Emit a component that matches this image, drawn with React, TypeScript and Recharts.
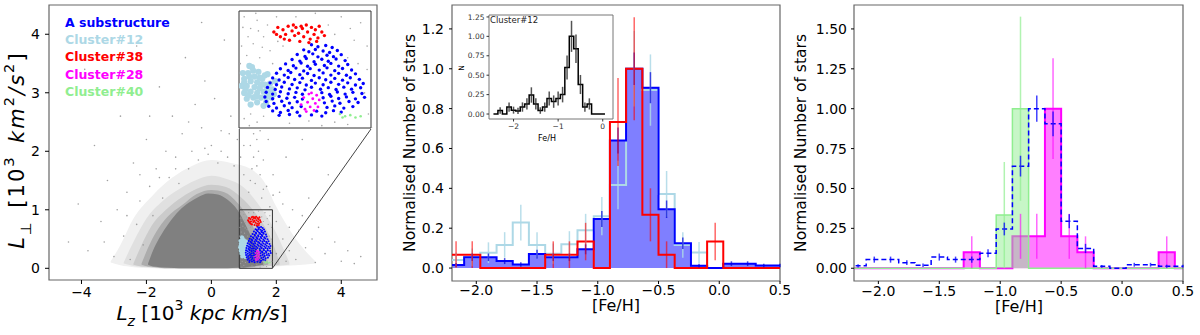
import React from 'react';
import {
  ComposedChart, Area, Line, Scatter, XAxis, YAxis,
  ReferenceArea, ReferenceLine, ErrorBar,
} from 'recharts';

const FONT = "'DejaVu Sans', sans-serif";

// ---------- left panel: Lz vs L_perp (10^3 units) ----------
const haloOuter = [
  { x: -3.1, band: [0.1, 0.12] }, { x: -2.8, band: [0.05, 0.4] }, { x: -2.4, band: [0.02, 0.85] },
  { x: -1.8, band: [0.0, 1.25] }, { x: -1.2, band: [0.0, 1.55] }, { x: -0.6, band: [0.0, 1.75] },
  { x: 0.0, band: [0.0, 1.85] }, { x: 0.6, band: [0.0, 1.8] }, { x: 1.2, band: [0.0, 1.7] },
  { x: 1.6, band: [0.01, 1.5] }, { x: 2.0, band: [0.03, 1.05] }, { x: 2.6, band: [0.05, 0.5] },
  { x: 3.2, band: [0.08, 0.12] },
];
const haloMid = [
  { x: -2.7, band: [0.08, 0.1] }, { x: -2.4, band: [0.04, 0.45] }, { x: -2.0, band: [0.02, 0.85] },
  { x: -1.5, band: [0.0, 1.15] }, { x: -1.0, band: [0.0, 1.35] }, { x: -0.5, band: [0.0, 1.5] },
  { x: 0.0, band: [0.0, 1.58] }, { x: 0.5, band: [0.0, 1.52] }, { x: 1.0, band: [0.0, 1.38] },
  { x: 1.5, band: [0.02, 1.05] }, { x: 2.0, band: [0.04, 0.6] }, { x: 2.4, band: [0.06, 0.1] },
];
const haloInner = [
  { x: -2.4, band: [0.06, 0.08] }, { x: -2.15, band: [0.03, 0.4] }, { x: -1.85, band: [0.02, 0.72] },
  { x: -1.4, band: [0.0, 1.0] }, { x: -0.9, band: [0.0, 1.22] }, { x: -0.45, band: [0.0, 1.36] },
  { x: 0.0, band: [0.0, 1.43] }, { x: 0.45, band: [0.0, 1.39] }, { x: 0.9, band: [0.0, 1.22] },
  { x: 1.35, band: [0.02, 0.95] }, { x: 1.8, band: [0.04, 0.55] }, { x: 2.1, band: [0.06, 0.1] },
];
const haloCore = [
  { x: -2.15, band: [0.06, 0.08] }, { x: -1.95, band: [0.03, 0.35] }, { x: -1.7, band: [0.02, 0.62] },
  { x: -1.35, band: [0.0, 0.88] }, { x: -0.9, band: [0.0, 1.08] }, { x: -0.45, band: [0.0, 1.27] },
  { x: 0.0, band: [0.0, 1.34] }, { x: 0.4, band: [0.0, 1.3] }, { x: 0.8, band: [0.0, 1.12] },
  { x: 1.15, band: [0.02, 0.85] }, { x: 1.5, band: [0.04, 0.45] }, { x: 1.75, band: [0.06, 0.1] },
];
const core = [
  { x: -1.95, band: [0.06, 0.08] }, { x: -1.8, band: [0.03, 0.3] }, { x: -1.6, band: [0.02, 0.52] },
  { x: -1.3, band: [0.01, 0.78] }, { x: -1.0, band: [0.0, 0.98] }, { x: -0.7, band: [0.0, 1.12] },
  { x: -0.4, band: [0.0, 1.22] }, { x: -0.1, band: [0.0, 1.28] }, { x: 0.2, band: [0.0, 1.26] },
  { x: 0.5, band: [0.0, 1.17] }, { x: 0.8, band: [0.01, 1.0] }, { x: 1.05, band: [0.02, 0.75] },
  { x: 1.3, band: [0.03, 0.45] }, { x: 1.5, band: [0.05, 0.2] }, { x: 1.6, band: [0.06, 0.08] },
];

const fieldStars: [number, number][] = [
  [-4.4, 0.45], [-4.1, 1.1], [-3.8, 0.3], [-3.6, 2.1], [-3.4, 0.8], [-3.2, 1.5], [-3.0, 0.2], [-2.9, 1.0],
  [-2.8, 2.6], [-2.7, 0.55], [-2.6, 1.3], [-2.5, 0.15], [-2.4, 1.8], [-2.3, 0.75], [-2.2, 1.15], [-2.1, 0.4],
  [-2.0, 2.2], [-1.9, 1.4], [-1.8, 0.9], [-1.7, 1.7], [-1.6, 3.1], [-1.5, 1.2], [-1.4, 2.0], [-1.3, 1.55],
  [-1.2, 2.6], [-1.1, 1.9], [-1.0, 1.45], [-0.9, 2.3], [-0.8, 3.6], [-0.7, 1.7], [-0.6, 2.0], [-0.5, 2.8],
  [-0.4, 1.85], [-0.3, 2.4], [-0.2, 3.2], [-0.1, 1.95], [0.0, 2.1], [0.1, 2.9], [0.2, 1.8], [0.3, 2.35],
  [0.4, 3.9], [0.5, 1.9], [0.6, 2.6], [0.7, 1.75], [0.8, 2.2], [0.9, 3.3], [1.0, 1.6], [1.05, 2.45],
  [1.1, 2.9], [1.15, 1.3], [1.2, 2.1], [1.25, 1.7], [1.3, 2.3], [1.3, 1.9], [1.35, 1.45], [1.4, 2.2],
  [1.45, 2.0], [1.5, 1.6], [1.5, 2.35], [1.55, 1.2], [1.6, 1.85], [1.7, 1.4], [1.75, 2.2], [1.8, 1.05],
  [1.9, 1.6], [2.0, 0.8], [2.1, 1.3], [2.2, 0.5], [2.3, 1.9], [2.4, 0.3], [2.5, 1.0], [2.6, 0.15],
  [2.7, 0.65], [2.8, 2.2], [2.9, 0.35], [3.0, 1.2], [3.2, 0.1], [3.3, 0.7], [3.5, 0.25], [3.6, 1.6],
  [3.8, 0.45], [4.0, 0.12], [4.2, 0.3], [4.4, 0.08], [4.6, 0.2], [-3.9, 3.4], [-0.3, 4.2], [-2.3, 3.8],
  [-2.6, 0.9], [-2.2, 1.6], [-1.6, 1.55], [-1.1, 1.7], [-0.7, 2.5], [-0.2, 2.05], [0.3, 2.0], [0.9, 1.9],
  [1.2, 1.5], [1.4, 1.75], [1.6, 1.35], [1.9, 1.25], [2.2, 1.1], [2.4, 0.7], [2.0, 0.25], [2.3, 0.12],
  [2.8, 0.9], [3.1, 0.5], [1.35, 2.6], [1.55, 2.5], [-3.3, 0.45], [-1.9, 2.6], [0.55, 2.3], [1.0, 2.1],
];

// zoom box content (same coordinates in both views)
const boxField: [number, number][] = [
  [0.9, 0.95], [0.95, 0.85], [0.88, 0.7], [1.0, 0.92], [1.05, 0.78], [0.92, 0.62], [1.1, 0.66], [0.97, 0.72],
  [1.02, 0.6], [1.08, 0.88], [1.15, 0.95], [1.2, 0.7], [1.12, 0.55], [0.9, 0.08], [0.95, 0.12], [1.0, 0.05],
  [1.05, 0.1], [1.25, 0.04], [1.4, 0.06], [1.6, 0.05], [1.7, 0.6], [1.75, 0.75], [1.8, 0.9], [1.65, 0.95],
  [1.55, 0.88], [1.6, 0.8], [1.85, 0.5], [1.83, 0.3], [1.86, 0.12], [1.7, 0.03], [1.3, 0.95], [1.45, 0.98],
  [1.78, 0.55], [0.87, 0.55], [0.99, 0.98], [1.12, 0.82], [1.85, 0.7], [1.72, 0.85], [0.94, 0.02], [1.5, 0.02],
  [0.93, 0.78], [1.04, 0.69], [0.89, 0.86], [1.16, 0.74], [1.01, 0.83],
];
const aSubstructure: [number, number][] = [
  [1.42, 0.712], [1.47, 0.695], [1.53, 0.705], [1.58, 0.688],
  [1.36, 0.668], [1.4, 0.652], [1.45, 0.671], [1.51, 0.658], [1.56, 0.645], [1.62, 0.662],
  [1.31, 0.628], [1.37, 0.612], [1.43, 0.634], [1.47, 0.608], [1.54, 0.622], [1.59, 0.61], [1.65, 0.627],
  [1.27, 0.585], [1.33, 0.572], [1.38, 0.594], [1.44, 0.566], [1.5, 0.588], [1.55, 0.571], [1.61, 0.59], [1.68, 0.576],
  [1.22, 0.548], [1.28, 0.532], [1.34, 0.556], [1.39, 0.528], [1.45, 0.545], [1.52, 0.534], [1.57, 0.552], [1.63, 0.529], [1.7, 0.543],
  [1.18, 0.506], [1.24, 0.492], [1.3, 0.512], [1.36, 0.488], [1.41, 0.507], [1.48, 0.495], [1.54, 0.514], [1.6, 0.49], [1.66, 0.508], [1.73, 0.496],
  [1.15, 0.468], [1.21, 0.452], [1.26, 0.474], [1.33, 0.456], [1.39, 0.466], [1.44, 0.449], [1.51, 0.471], [1.57, 0.452], [1.63, 0.467], [1.69, 0.451], [1.76, 0.463],
  [1.12, 0.428], [1.17, 0.41], [1.24, 0.432], [1.29, 0.414], [1.35, 0.426], [1.42, 0.407], [1.48, 0.43], [1.53, 0.412], [1.6, 0.424], [1.66, 0.409], [1.72, 0.429], [1.79, 0.416],
  [1.1, 0.386], [1.15, 0.37], [1.21, 0.391], [1.27, 0.372], [1.33, 0.388], [1.38, 0.367], [1.45, 0.384], [1.51, 0.37], [1.57, 0.391], [1.63, 0.373], [1.7, 0.386], [1.76, 0.368], [1.82, 0.38],
  [1.08, 0.347], [1.14, 0.33], [1.19, 0.35], [1.25, 0.334], [1.31, 0.343], [1.37, 0.326], [1.42, 0.348], [1.49, 0.331], [1.55, 0.345], [1.61, 0.329], [1.67, 0.349], [1.73, 0.332], [1.8, 0.344],
  [1.07, 0.306], [1.12, 0.29], [1.18, 0.31], [1.24, 0.293], [1.3, 0.304], [1.35, 0.288], [1.5, 0.302], [1.56, 0.287], [1.62, 0.308], [1.68, 0.29], [1.74, 0.305], [1.81, 0.295],
  [1.06, 0.265], [1.12, 0.25], [1.17, 0.27], [1.23, 0.254], [1.29, 0.262], [1.35, 0.247], [1.51, 0.258], [1.57, 0.271], [1.63, 0.252], [1.69, 0.266], [1.76, 0.249], [1.83, 0.262],
  [1.07, 0.226], [1.13, 0.21], [1.19, 0.229], [1.25, 0.213], [1.31, 0.224], [1.52, 0.215], [1.58, 0.23], [1.64, 0.212], [1.71, 0.227], [1.78, 0.218],
  [1.09, 0.186], [1.15, 0.171], [1.21, 0.19], [1.27, 0.174], [1.34, 0.184], [1.54, 0.176], [1.6, 0.189], [1.67, 0.17], [1.74, 0.183],
  [1.12, 0.146], [1.18, 0.132], [1.24, 0.15], [1.31, 0.135], [1.46, 0.144], [1.53, 0.13], [1.59, 0.148], [1.65, 0.136],
  [1.17, 0.108], [1.25, 0.115], [1.33, 0.104], [1.42, 0.112], [1.5, 0.102],
];
const cluster38Pts: [number, number][] = [
  [1.13, 0.82], [1.16, 0.86], [1.18, 0.78], [1.2, 0.84], [1.22, 0.8], [1.24, 0.87], [1.25, 0.75], [1.27, 0.83],
  [1.29, 0.79], [1.3, 0.86], [1.32, 0.81], [1.33, 0.74], [1.35, 0.85], [1.36, 0.78], [1.38, 0.88], [1.39, 0.82],
  [1.41, 0.76], [1.42, 0.86], [1.44, 0.8], [1.45, 0.84], [1.47, 0.77], [1.48, 0.87], [1.5, 0.82], [1.52, 0.79],
  [1.21, 0.76], [1.28, 0.88], [1.4, 0.73], [1.15, 0.8], [1.34, 0.87], [1.46, 0.74],
];
const cluster12Pts: [number, number][] = [
  [0.88, 0.36], [0.9, 0.3], [0.9, 0.42], [0.92, 0.25], [0.92, 0.36], [0.93, 0.47], [0.95, 0.2], [0.95, 0.31],
  [0.95, 0.4], [0.96, 0.52], [0.97, 0.26], [0.98, 0.35], [0.98, 0.44], [1.0, 0.22], [1.0, 0.3], [1.0, 0.39],
  [1.01, 0.48], [1.02, 0.34], [1.03, 0.26], [1.04, 0.42], [1.05, 0.31], [1.06, 0.37], [1.07, 0.22], [1.08, 0.46],
  [1.09, 0.3], [1.1, 0.38], [1.12, 0.33], [1.14, 0.4], [0.89, 0.47], [0.94, 0.53], [1.05, 0.19], [1.11, 0.26],
  [0.91, 0.33], [0.94, 0.44], [0.97, 0.49], [0.99, 0.27], [1.03, 0.37], [1.06, 0.45], [1.08, 0.34], [1.13, 0.29],
  [0.93, 0.28], [1.02, 0.43], [0.9, 0.39], [1.07, 0.26],
];
const cluster28Pts: [number, number][] = [
  [1.34, 0.2], [1.36, 0.26], [1.37, 0.16], [1.39, 0.22], [1.4, 0.29], [1.41, 0.18], [1.43, 0.25], [1.44, 0.15],
  [1.45, 0.21], [1.46, 0.28], [1.47, 0.18], [1.48, 0.24], [1.38, 0.14], [1.42, 0.3],
];
const cluster40Pts: [number, number][] = [
  [1.64, 0.12], [1.68, 0.1], [1.72, 0.11], [1.76, 0.09], [1.8, 0.1], [1.66, 0.09],
];

// ---------- metallicity histograms ----------
const BIN_EDGES = [-2.233, -2.1, -1.967, -1.833, -1.7, -1.567, -1.433, -1.3, -1.167, -1.033, -0.9,
  -0.767, -0.633, -0.5, -0.367, -0.233, -0.1, 0.033, 0.167, 0.3, 0.433, 0.567];

const substructure = [0.015, 0.054, 0.054, 0.035, 0.018, 0.07, 0.054, 0.054, 0.094, 0.246, 0.64,
  1.0, 0.905, 0.295, 0.124, 0.012, 0, 0.022, 0.022, 0.013, 0.013];
const substructureErr = [0.01, 0.019, 0.019, 0.015, 0.011, 0.022, 0.019, 0.019, 0.025, 0.04, 0.065,
  0.082, 0.078, 0.044, 0.029, 0.009, 0, 0.012, 0.012, 0.009, 0.009];
const cluster12 = [0.04, 0.054, 0.077, 0.116, 0.228, 0.116, 0.072, 0.12, 0.19, 0.26, 0.417,
  1.0, 0.893, 0.372, 0.116, 0.078, 0, 0, 0, 0, 0];
const cluster12Err = [0.038, 0.044, 0.052, 0.064, 0.09, 0.064, 0.051, 0.065, 0.082, 0.096, 0.122,
  0.189, 0.179, 0.115, 0.064, 0.053, 0, 0, 0, 0, 0];
const cluster38 = [0.067, 0.067, 0, 0, 0, 0, 0.067, 0.067, 0.133, 0, 0.733,
  1.0, 0.267, 0.067, 0, 0, 0.133, 0, 0, 0, 0];
const cluster38Err = [0.067, 0.067, 0, 0, 0, 0, 0.067, 0.067, 0.094, 0, 0.221,
  0.258, 0.133, 0.067, 0, 0, 0.094, 0, 0, 0, 0];
const cluster28 = [0, 0, 0, 0, 0, 0, 0, 0.1, 0, 0, 0.2, 0.2, 1.0, 0.2, 0.1, 0, 0, 0, 0, 0.1, 0];
const cluster28Err = [0, 0, 0, 0, 0, 0, 0, 0.1, 0, 0, 0.141, 0.141, 0.316, 0.141, 0.1, 0, 0, 0, 0, 0.1, 0];
const cluster40 = [0, 0, 0, 0, 0, 0, 0, 0, 0, 0.333, 1.0, 0, 0, 0, 0, 0, 0, 0, 0, 0, 0];
const cluster40Err = [0, 0, 0, 0, 0, 0, 0, 0, 0, 0.333, 0.577, 0, 0, 0, 0, 0, 0, 0, 0, 0, 0];

// inset: Cluster#12 with finer bins
const INSET_EDGES = [-2.45, -2.35, -2.25, -2.15, -2.05, -1.95, -1.85, -1.75, -1.65, -1.55, -1.45, -1.35, -1.25,
  -1.15, -1.05, -0.95, -0.85, -0.75, -0.65, -0.55, -0.45, -0.35, -0.25, -0.15, -0.05, 0.05];
const cluster12Fine = [0, 0.045, 0, 0.09, 0.05, 0.04, 0.09, 0.13, 0.245, 0.13, 0.045, 0.09, 0.2,
  0.16, 0.2, 0.25, 0.6, 1.0, 0.84, 0.38, 0.09, 0.13, 0, 0, 0];
const cluster12FineErr = [0, 0.042, 0, 0.06, 0.045, 0.04, 0.06, 0.072, 0.099, 0.072, 0.042, 0.06, 0.089,
  0.08, 0.089, 0.1, 0.155, 0.2, 0.183, 0.123, 0.06, 0.072, 0, 0, 0];

const FEH_TICKS = [-2.0, -1.5, -1.0, -0.5, 0.0, 0.5];

// ---------- helpers ----------
const pts = (a: [number, number][]) => a.map(([x, y]) => ({ x, y }));

function stepRows(edges: number[], cols: Record<string, number[]>) {
  const keys = Object.keys(cols);
  const row = (x: number, i: number) => {
    const r: any = { x };
    keys.forEach((k) => { r[k] = i < 0 ? 0 : cols[k][i]; });
    return r;
  };
  const n = edges.length - 1;
  const rows = [row(edges[0], -1)];
  for (let i = 0; i < n; i++) rows.push(row(edges[i], i));
  rows.push(row(edges[n], n - 1));
  rows.push(row(edges[n], -1));
  return rows;
}

function errRows(edges: number[], vals: number[], errs: number[]) {
  return vals
    .map((v, i) => ({ x: (edges[i] + edges[i + 1]) / 2, y: v, err: errs[i] }))
    .filter((r) => r.err > 0);
}

const minus = (s: string) => s.replace('-', '\u2212');
const fmt = (d: number) => (v: number) => minus(v.toFixed(d));

const dot = (r: number, fill: string) => (p: any) => <circle cx={p.cx} cy={p.cy} r={r} fill={fill} />;
const NoShape = () => <g />;

const tick14 = { fill: '#000', fontSize: 14, fontFamily: FONT };
const tick7 = { fill: '#333', fontSize: 7.5, fontFamily: FONT };

const AxisText = ({ x, y, rotate, size, spacing, children }: any) => (
  <text
    x={x} y={y}
    transform={rotate ? `rotate(-90 ${x} ${y})` : undefined}
    textAnchor="middle" dominantBaseline="central"
    fontSize={size} fontFamily={FONT} fill="#000" letterSpacing={spacing}
  >
    {children}
  </text>
);

const sup = { fontSize: '70%', baselineShift: 'super' } as any;
const sub = { fontSize: '70%', baselineShift: 'sub' } as any;

// ---------- panels ----------
const LEGEND = [
  { text: 'A substructure', color: '#0000ff', y: 23 },
  { text: 'Cluster#12', color: '#add8e6', y: 40 },
  { text: 'Cluster#38', color: '#ff0000', y: 57 },
  { text: 'Cluster#28', color: '#ff00ff', y: 75 },
  { text: 'Cluster#40', color: '#90ee90', y: 92 },
];

function ClusterScatters({ scale }: { scale: number }) {
  return (
    <>
      <Scatter data={pts(cluster12Pts)} shape={dot(2.4 * scale, '#add8e6')} isAnimationActive={false} />
      <Scatter data={pts(aSubstructure)} shape={dot(1.3 * scale, '#0000ff')} isAnimationActive={false} />
      <Scatter data={pts(cluster38Pts)} shape={dot(1.3 * scale, '#ff0000')} isAnimationActive={false} />
      <Scatter data={pts(cluster28Pts)} shape={dot(1.1 * scale, '#ff00ff')} isAnimationActive={false} />
      <Scatter data={pts(cluster40Pts)} shape={dot(1.0 * scale, '#90ee90')} isAnimationActive={false} />
    </>
  );
}

function LeftPanel() {
  return (
    <>
      <div style={{ position: 'absolute', left: 0, top: 0 }}>
        <ComposedChart width={390} height={335} margin={{ top: 5, right: 13, bottom: 0, left: 0 }}>
          <XAxis
            type="number" dataKey="x" domain={[-5, 5.1]} allowDataOverflow
            ticks={[-4, -2, 0, 2, 4]} tickFormatter={(v: number) => minus(String(v))}
            tick={tick14} tickSize={4} tickMargin={3} tickLine={{ stroke: '#000' }} axisLine={false} height={55}
            label={() => (
              <AxisText x={202} y={313} size={20}>
                <tspan fontStyle="italic">L</tspan>
                <tspan fontStyle="italic" style={sub}>z</tspan>
                <tspan> [10</tspan>
                <tspan style={sup}>3</tspan>
                <tspan fontStyle="italic"> kpc km/s</tspan>
                <tspan>]</tspan>
              </AxisText>
            )}
          />
          <YAxis
            type="number" dataKey="y" domain={[-0.2, 4.5]} allowDataOverflow
            ticks={[0, 1, 2, 3, 4]} tick={tick14} tickSize={4} tickMargin={5} tickLine={{ stroke: '#000' }}
            axisLine={false} width={49}
            label={() => (
              <AxisText x={17} y={150} size={21} rotate spacing={2}>
                <tspan fontStyle="italic">L</tspan>
                <tspan style={sub}>⊥</tspan>
                <tspan>{'\u2002[10'}</tspan>
                <tspan style={sup}>3</tspan>
                <tspan fontStyle="italic">{'\u2002km'}</tspan>
                <tspan style={sup}>2</tspan>
                <tspan fontStyle="italic">/s</tspan>
                <tspan style={sup}>2</tspan>
                <tspan>]</tspan>
              </AxisText>
            )}
          />
          <Area data={haloOuter} dataKey="band" type="monotone" fill="#f0f0f0" fillOpacity={1} stroke="none" isAnimationActive={false} />
          <Area data={haloMid} dataKey="band" type="monotone" fill="#e0e0e0" fillOpacity={1} stroke="none" isAnimationActive={false} />
          <Area data={haloInner} dataKey="band" type="monotone" fill="#cbcbcb" fillOpacity={1} stroke="none" isAnimationActive={false} />
          <Area data={haloCore} dataKey="band" type="monotone" fill="#acacac" fillOpacity={1} stroke="none" isAnimationActive={false} />
          <Area data={core} dataKey="band" type="monotone" fill="#808080" fillOpacity={1} stroke="none" isAnimationActive={false} />
          <Scatter data={pts(fieldStars)} shape={dot(0.8, '#a0a0a0')} isAnimationActive={false} />
          <Scatter data={pts(boxField)} shape={dot(0.6, '#a0a0a0')} isAnimationActive={false} />
          {ClusterScatters({ scale: 0.8 })}
          <ReferenceArea x1={0.86} x2={1.88} y1={0} y2={1} fill="none" stroke="#333" strokeWidth={1} />
          <ReferenceLine segment={[{ x: 0.86, y: 1 }, { x: 0.86, y: 2.4 }]} stroke="#444" strokeWidth={1} />
          <ReferenceLine segment={[{ x: 1.88, y: 0 }, { x: 4.94, y: 2.4 }]} stroke="#444" strokeWidth={1} />
          <ReferenceArea x1={-5} x2={5.1} y1={-0.2} y2={4.5} fill="none" stroke="#666" strokeWidth={1.2} />
        </ComposedChart>
      </div>
      <div style={{ position: 'absolute', left: 238, top: 10, background: '#fff' }}>
        <ComposedChart width={134} height={119} margin={{ top: 1, right: 1, bottom: 1, left: 1 }}>
          <XAxis type="number" dataKey="x" hide domain={[0.86, 1.88]} allowDataOverflow />
          <YAxis type="number" dataKey="y" hide domain={[0, 1]} allowDataOverflow />
          <Scatter data={pts(boxField)} shape={dot(0.8, '#a8a8a8')} isAnimationActive={false} />
          {ClusterScatters({ scale: 1.3 })}
          <ReferenceArea x1={0.86} x2={1.88} y1={0} y2={1} fill="none" stroke="#333" strokeWidth={1} />
        </ComposedChart>
      </div>
      {LEGEND.map((l) => (
        <div
          key={l.text}
          style={{
            position: 'absolute', left: 65, top: l.y - 8, height: 16, lineHeight: '16px',
            fontSize: 12.5, fontWeight: 'bold', color: l.color, fontFamily: FONT, whiteSpace: 'nowrap',
          }}
        >
          {l.text}
        </div>
      ))}
    </>
  );
}

function ErrBars({ data, color }: { data: any[]; color: string }) {
  return (
    <Scatter data={data} shape={NoShape} isAnimationActive={false}>
      <ErrorBar dataKey="err" direction="y" width={0} stroke={color} strokeWidth={1.5} />
    </Scatter>
  );
}

const middleRows = stepRows(BIN_EDGES, { sub: substructure, c12: cluster12, c38: cluster38 });
const insetRows = stepRows(INSET_EDGES, { c12: cluster12Fine });

function MiddlePanel() {
  return (
    <>
      <div style={{ position: 'absolute', left: 390, top: 0 }}>
        <ComposedChart width={400} height={335} data={middleRows} margin={{ top: 5, right: 10, bottom: 0, left: 0 }}>
          <XAxis
            type="number" dataKey="x" domain={[-2.2, 0.5]} allowDataOverflow ticks={FEH_TICKS}
            tickFormatter={fmt(1)} tick={tick14} tickSize={3} tickMargin={1} tickLine={{ stroke: '#000' }} axisLine={false} height={54}
            label={() => <AxisText x={226} y={305} size={16}>[Fe/H]</AxisText>}
          />
          <YAxis
            type="number" dataKey="y" domain={[-0.065, 1.32]} allowDataOverflow
            ticks={[0, 0.2, 0.4, 0.6, 0.8, 1.0, 1.2]} tickFormatter={fmt(1)}
            tick={tick14} tickSize={3} tickMargin={5} tickLine={{ stroke: '#000' }} axisLine={false} width={62}
            label={() => <AxisText x={20} y={143} size={15.5} rotate>Normalised Number of stars</AxisText>}
          />
          <Area dataKey="sub" type="stepAfter" baseValue={0} fill="#0000ff" fillOpacity={0.5} stroke="none" isAnimationActive={false} />
          <Line dataKey="c12" type="stepAfter" stroke="#add8e6" strokeWidth={2} dot={false} activeDot={false} isAnimationActive={false} />
          <Line dataKey="sub" type="stepAfter" stroke="#0000ff" strokeWidth={2} dot={false} activeDot={false} isAnimationActive={false} />
          <Line dataKey="c38" type="stepAfter" stroke="#ff0000" strokeWidth={2} dot={false} activeDot={false} isAnimationActive={false} />
          {ErrBars({ data: errRows(BIN_EDGES, cluster12, cluster12Err), color: 'rgba(173,216,230,0.85)' })}
          {ErrBars({ data: errRows(BIN_EDGES, substructure, substructureErr), color: 'rgba(0,0,220,0.7)' })}
          {ErrBars({ data: errRows(BIN_EDGES, cluster38, cluster38Err), color: 'rgba(255,0,0,0.6)' })}
          <ReferenceArea x1={-2.2} x2={0.5} y1={-0.065} y2={1.32} fill="none" stroke="#666" strokeWidth={1.2} />
        </ComposedChart>
      </div>
      <div style={{ position: 'absolute', left: 455, top: 10 }}>
        <ComposedChart width={165} height={135} data={insetRows} margin={{ top: 5, right: 7, bottom: 0, left: 0 }}>
          <XAxis
            type="number" dataKey="x" domain={[-2.55, 0.23]} allowDataOverflow ticks={[-2, -1, 0]}
            tickFormatter={(v: number) => minus(String(v))} tick={tick7} tickSize={2.5}
            tickLine={{ stroke: '#333' }} axisLine={false} height={26}
            label={() => <AxisText x={92} y={128} size={8}>Fe/H</AxisText>}
          />
          <YAxis
            type="number" dataKey="y" domain={[-0.064, 1.275]} allowDataOverflow
            ticks={[0, 0.25, 0.5, 0.75, 1.0, 1.25]} tickFormatter={fmt(2)} tick={tick7} tickSize={2.5}
            tickLine={{ stroke: '#333' }} axisLine={false} width={34}
            label={() => <AxisText x={6} y={58} size={7.5} rotate>N</AxisText>}
          />
          <ReferenceArea x1={-2.55} x2={0.23} y1={-0.064} y2={1.275} fill="#fff" fillOpacity={1} stroke="none" />
          <Line dataKey="c12" type="stepAfter" stroke="#000" strokeWidth={1.5} dot={false} activeDot={false} isAnimationActive={false} />
          {ErrBars({ data: errRows(INSET_EDGES, cluster12Fine, cluster12FineErr), color: 'rgba(40,40,40,0.8)' })}
          <ReferenceArea x1={-2.55} x2={0.23} y1={-0.064} y2={1.275} fill="none" stroke="#777" strokeWidth={1} />
        </ComposedChart>
      </div>
      <div style={{ position: 'absolute', left: 490, top: 15, fontSize: 8.5, lineHeight: '11px', color: '#222', fontFamily: FONT }}>
        Cluster#12
      </div>
    </>
  );
}

const rightRows = stepRows(BIN_EDGES, { sub: substructure, c28: cluster28, c40: cluster40 });

function RightPanel() {
  return (
    <div style={{ position: 'absolute', left: 790, top: 0 }}>
      <ComposedChart width={410} height={335} data={rightRows} margin={{ top: 5, right: 17, bottom: 0, left: 0 }}>
        <XAxis
          type="number" dataKey="x" domain={[-2.2, 0.5]} allowDataOverflow ticks={FEH_TICKS}
          tickFormatter={fmt(1)} tick={tick14} tickSize={3} tickMargin={2} tickLine={{ stroke: '#000' }} axisLine={false} height={54}
          label={() => <AxisText x={229} y={306} size={16}>[Fe/H]</AxisText>}
        />
        <YAxis
          type="number" dataKey="y" domain={[-0.08, 1.65]} allowDataOverflow
          ticks={[0, 0.25, 0.5, 0.75, 1.0, 1.25, 1.5]} tickFormatter={fmt(2)}
          tick={tick14} tickSize={3} tickMargin={4} tickLine={{ stroke: '#000' }} axisLine={false} width={64}
          label={() => <AxisText x={11} y={143} size={15.5} rotate>Normalised Number of stars</AxisText>}
        />
        <Area dataKey="c28" type="stepAfter" baseValue={0} fill="#ff00ff" fillOpacity={0.5} stroke="#ff00ff" strokeWidth={2} isAnimationActive={false} />
        <Area dataKey="c40" type="stepAfter" baseValue={0} fill="#90ee90" fillOpacity={0.5} stroke="#90ee90" strokeWidth={1.5} isAnimationActive={false} />
        <Line dataKey="sub" type="stepAfter" stroke="#0000ff" strokeWidth={1.5} strokeDasharray="5 3" dot={false} activeDot={false} isAnimationActive={false} />
        {ErrBars({ data: errRows(BIN_EDGES, cluster40, cluster40Err), color: 'rgba(144,238,144,0.7)' })}
        {ErrBars({ data: errRows(BIN_EDGES, cluster28, cluster28Err), color: 'rgba(255,0,255,0.6)' })}
        {ErrBars({ data: errRows(BIN_EDGES, substructure, substructureErr), color: 'rgba(0,0,255,0.75)' })}
        <ReferenceArea x1={-2.2} x2={0.5} y1={-0.08} y2={1.65} fill="none" stroke="#666" strokeWidth={1.2} />
      </ComposedChart>
    </div>
  );
}

export default function App() {
  return (
    <div style={{ position: 'absolute', left: 0, top: 0, width: 1200, height: 335, background: '#fff', fontFamily: FONT }}>
      <LeftPanel />
      <MiddlePanel />
      <RightPanel />
    </div>
  );
}
